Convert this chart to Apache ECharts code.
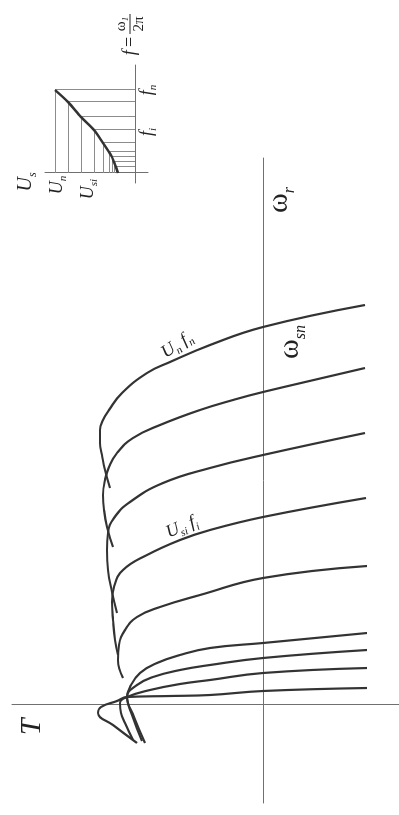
<!DOCTYPE html>
<html>
<head>
<meta charset="utf-8">
<script src="https://cdn.jsdelivr.net/npm/echarts@6/dist/echarts.min.js"></script>
<style>
  html, body { margin: 0; padding: 0; background: #fff; width: 399px; height: 815px; overflow: hidden; }
  /* the figure is laid out landscape and turned a quarter turn to stand on the page */
  #fig { position: absolute; left: 0; top: 0; width: 815px; height: 399px;
         transform-origin: 0 0; transform: translate(0, 815px) rotate(-90deg); }
</style>
</head>
<body>
<div id="fig"></div>
<script>
// Torque–speed characteristics T(ω_r) of an induction motor fed at variable voltage and frequency.
// Each curve is a list of [ω_r, T] points, walked along the curve (arbitrary units).
const curveFn = [[217,153],[235,158],[250,161],[262,163],[275,163],[285,160],[295,154],[312,141],[332,116],[343,93],[360,53],[378,0],[400,-102]];
const curveF2 = [[158,150],[178,156],[195,159],[210,160],[225,158],[238,154],[252,146],[267,130],[280,103],[295,63],[305,30],[313,0],[337,-102]];
const curveF3 = [[92,146],[113,151],[135,155],[155,156],[172,155],[187,149],[203,133],[222,100],[237,53],[250,0],[272,-102]];
const curveFi = [[50,145],[65,148],[85,150],[103,151],[118,149],[135,140],[150,116],[165,83],[175,53],[188,0],[207,-103]];
const curveF5 = [[27,140],[45,145],[60,144],[75,138],[88,126],[98,103],[110,63],[127,0],[139,-104]];
const curveF6 = [[-36,121],[-10,131],[8,136],[18,133],[32,123],[42,106],[50,83],[57,53],[62,0],[72,-104]];
const curveF7 = [[-38,118],[-12,129],[8,136],[20,126],[28,110],[35,83],[40,53],[47,0],[55,-104]];
const curveF8 = [[-35,130],[-18,138],[-8,142],[2,143],[8,136],[15,113],[21,83],[25,53],[32,0],[37,-104]];
const curveF9 = [[-38,126],[-20,150],[-8,165],[-2,162],[4,146],[8,136],[9,93],[10,53],[14,0],[17,-104]];

// Voltage/frequency programme U_s(f): stator frequency steps and their voltages, with low-frequency boost.
const freqSteps = [83, 71, 56, 43, 30, 21, 16, 11, 6];
const voltSteps = [80, 67, 54, 41, 32, 26, 23, 21, 19];
const boostVoltage = 17;

const curves = [curveFn, curveF2, curveF3, curveFi, curveF5, curveF6, curveF7, curveF8, curveF9];
const vfCurve = [[0, boostVoltage]].concat(freqSteps.map((f, i) => [f, voltSteps[i]]).reverse());
const hatch = [];
freqSteps.forEach((f, i) => {
  hatch.push({ coords: [[f, 0], [f, voltSteps[i]]] });
  hatch.push({ coords: [[0, voltSteps[i]], [f, voltSteps[i]]] });
});

const ink = '#333';
const axisInk = '#707070';
const serif = '"Liberation Serif", "DejaVu Serif", serif';

const bareAxis = (grid, min, max) => ({
  type: 'value', gridIndex: grid, min, max,
  axisLine: { show: true, onZero: true, lineStyle: { color: axisInk, width: 1 } },
  axisTick: { show: false }, axisLabel: { show: false }, splitLine: { show: false }
});

const chart = echarts.init(document.getElementById('fig'), null, { renderer: 'canvas', width: 815, height: 399 });

const option = {
  animation: false,
  backgroundColor: '#fff',
  grid: [
    { left: 12, top: 12, width: 645, height: 387 },
    { left: 632, top: 45, width: 118, height: 103 }
  ],
  xAxis: [bareAxis(0, -98, 547), bareAxis(1, -10, 108)],
  yAxis: [bareAxis(0, -136, 251), bareAxis(1, -13, 90)],
  series: curves.map(c => ({
    type: 'line', xAxisIndex: 0, yAxisIndex: 0, data: c,
    showSymbol: false, smooth: 0.45, silent: true,
    lineStyle: { color: ink, width: 2.2 }
  })).concat([
    {
      type: 'lines', coordinateSystem: 'cartesian2d', xAxisIndex: 1, yAxisIndex: 1,
      data: hatch, silent: true,
      lineStyle: { color: '#8c8c8c', width: 1, opacity: 1 }
    },
    {
      type: 'line', xAxisIndex: 1, yAxisIndex: 1, data: vfCurve,
      showSymbol: false, smooth: 0.3, silent: true,
      lineStyle: { color: ink, width: 2.5 }
    }
  ])
};
chart.setOption(option);

// text placed at data positions of the two grids
const at = (g, p) => chart.convertToPixel({ gridIndex: g }, p);
const tok = (style, size, lh) => ({
  font: style + ' ' + size + 'px ' + serif, fontFamily: serif, fontSize: size,
  fontStyle: style === 'italic' ? 'italic' : 'normal', lineHeight: lh, fill: '#222'
});
const rich = (big, small) => ({
  i: tok('italic', big, Math.round(big * 1.25)),
  w: tok('normal', big, Math.round(big * 1.25)),
  s: Object.assign(tok('italic', small, small), { verticalAlign: 'bottom' })
});
const label = (g, p, text, big, small, rot) => {
  const [x, y] = at(g, p);
  return {
    type: 'text', x, y, rotation: rot || 0, silent: true,
    style: { text, rich: rich(big, small), align: 'center', verticalAlign: 'middle' }
  };
};

const fracPos = at(1, [149, 5]);
const fPos = at(1, [127, 5]);

chart.setOption({
  graphic: [
    label(0, [-22, 231], '{i|T}', 30, 16),
    label(0, [505, -16], '{w|ω}{s|r}', 30, 16),
    label(0, [363, -27], '{w|ω}{s|sn}', 30, 16),
    label(0, [360, 86], '{i|U}{s|n}{i| f}{s|n}', 18, 11, -56 * Math.PI / 180),
    label(0, [178, 81], '{i|U}{s|si}{i| f}{s|i}', 18, 11, -67 * Math.PI / 180),
    label(1, [-9, 109], '{i|U}{s|s}', 20, 12),
    label(1, [-12, 78], '{i|U}{s|n}', 18, 11),
    label(1, [-16, 47], '{i|U}{s|si}', 18, 11),
    label(1, [83, -12], '{i|f}{s|n}', 18, 11),
    label(1, [41, -12], '{i|f}{s|i}', 18, 11),
    {
      type: 'text', x: fPos[0], y: fPos[1], silent: true,
      style: { text: '{i|f} {w|=}', rich: rich(18, 11), align: 'center', verticalAlign: 'middle' }
    },
    {
      type: 'group', x: fracPos[0], y: fracPos[1], silent: true,
      children: [
        { type: 'text', x: 0, y: -9, style: { text: '{w|ω}{s|1}', rich: rich(15, 9), align: 'center', verticalAlign: 'middle' } },
        { type: 'line', shape: { x1: -10, y1: 0, x2: 10, y2: 0 }, style: { stroke: '#222', lineWidth: 1 } },
        { type: 'text', x: 0, y: 9, style: { text: '{w|2π}', rich: rich(15, 9), align: 'center', verticalAlign: 'middle' } }
      ]
    }
  ]
});
</script>
</body>
</html>
